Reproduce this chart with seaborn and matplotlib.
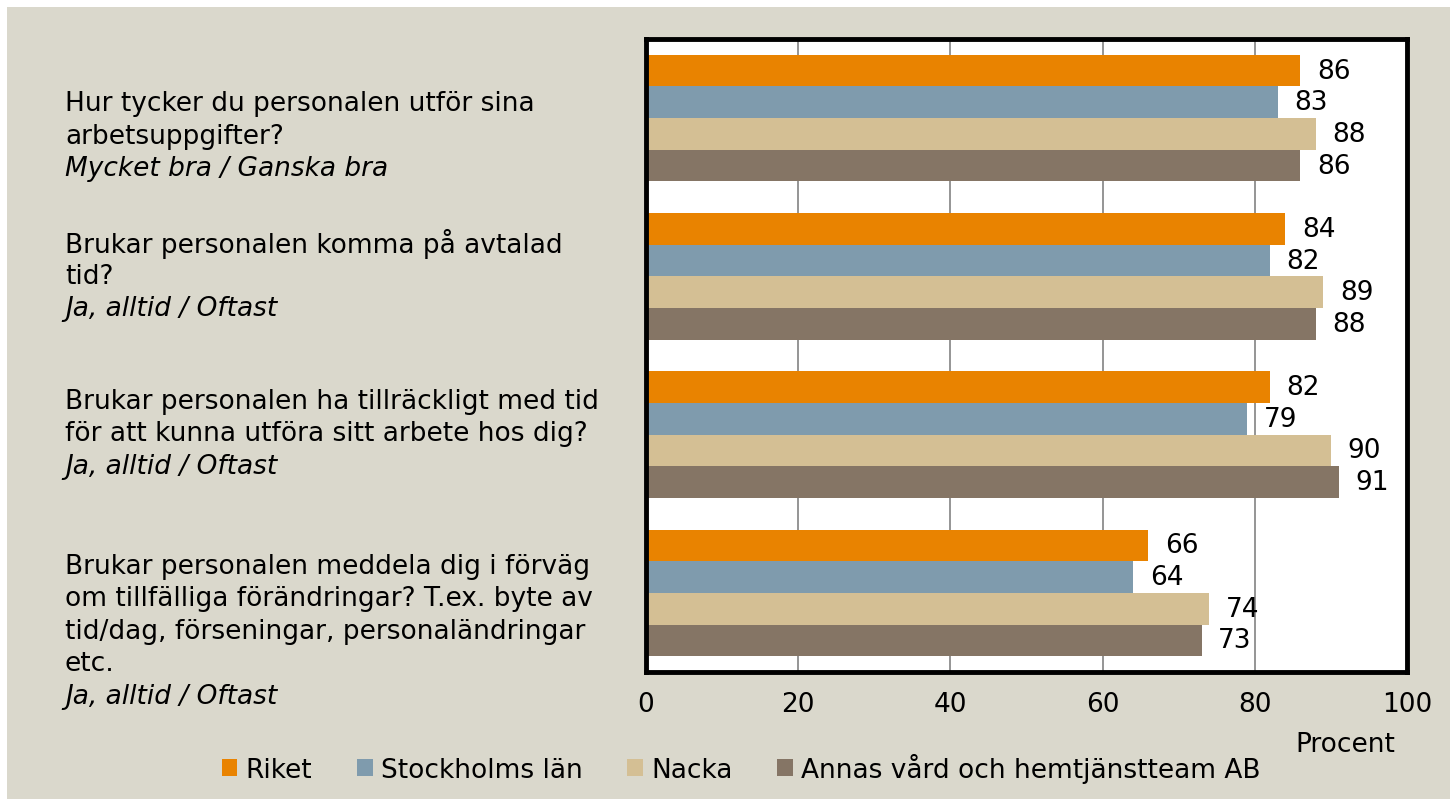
import matplotlib.pyplot as plt
import matplotlib.transforms as mtransforms
from matplotlib.patches import Rectangle
import pandas as pd
import seaborn as sns

# data
question_keys = ["q1", "q2", "q3", "q4"]
question_lines = [
    ["Hur tycker du personalen utför sina", "arbetsuppgifter?"],
    ["Brukar personalen komma på avtalad", "tid?"],
    ["Brukar personalen ha tillräckligt med tid", "för att kunna utföra sitt arbete hos dig?"],
    ["Brukar personalen meddela dig i förväg", "om tillfälliga förändringar? T.ex. byte av",
     "tid/dag, förseningar, personaländringar", "etc."],
]
answer_lines = ["Mycket bra / Ganska bra", "Ja, alltid / Oftast",
                "Ja, alltid / Oftast", "Ja, alltid / Oftast"]
series = ["Riket", "Stockholms län", "Nacka", "Annas vård och hemtjänstteam AB"]
riket = [86, 84, 82, 66]
stockholm = [83, 82, 79, 64]
nacka = [88, 89, 90, 74]
annas = [86, 88, 91, 73]
colors = ["#E98300", "#7F9BAD", "#D4BF94", "#857565"]
bg = "#DAD8CC"

rows = []
for name, vals in zip(series, [riket, stockholm, nacka, annas]):
    for q, v in zip(question_keys, vals):
        rows.append({"question": q, "series": name, "value": v})
df = pd.DataFrame(rows)

sns.set_theme(style="white")
plt.rcParams['font.family'] = ['DejaVu Sans']
plt.rcParams['text.color'] = 'black'

W, H = 1450, 803
fig = plt.figure(figsize=(W / 100, H / 100), dpi=100, facecolor="white")
fig.patches.append(Rectangle((7 / W, 3 / H), 1, (H - 11) / H, transform=fig.transFigure,
                             facecolor=bg, edgecolor="none", zorder=-10))

ax = fig.add_axes([646 / W, 1 - 673 / H, (1407 - 646) / W, (673 - 40) / H])
ax.set_facecolor("white")

sns.barplot(data=df, x="value", y="question", hue="series", hue_order=series,
            order=question_keys, palette=colors, orient="h", width=0.8,
            saturation=1, linewidth=0, ax=ax)
handles, labels = ax.get_legend_handles_labels()
ax.legend_.remove()

for cont in ax.containers:
    ax.bar_label(cont, padding=12, fontsize=19, color="black")

ax.set_xlim(0, 100)
ax.set_ylim(3.5, -0.5)
ax.set_xticks(range(0, 101, 20))
ax.set_yticks([])
ax.set_xlabel("")
ax.set_ylabel("")
ax.xaxis.grid(True, color="#8C8C8C", linewidth=1.3)
ax.set_axisbelow(True)
ax.tick_params(axis="x", length=0, pad=14, labelsize=19, labelcolor="black")
for s in ax.spines.values():
    s.set_visible(True)
    s.set_color("black")
    s.set_linewidth(3.5)

# question texts on the left
first_offset = [-15, -33, -34, -27]   # px from group centre to first line
line_step = 32.5
base = mtransforms.blended_transform_factory(fig.transFigure, ax.transData)
for i, (qlines, ans) in enumerate(zip(question_lines, answer_lines)):
    all_lines = qlines + [ans]
    for j, line in enumerate(all_lines):
        dy = -(first_offset[i] + j * line_step) / 100
        tr = base + mtransforms.ScaledTranslation(0, dy, fig.dpi_scale_trans)
        ax.text(65 / W, i, line, transform=tr, ha="left", va="center", fontsize=19,
                style="italic" if j == len(all_lines) - 1 else "normal",
                color="black", clip_on=False)

fig.text(1395 / W, 1 - 745 / H, "Procent", ha="right", va="center", fontsize=19,
         color="black")

fig.legend(handles, labels, loc="center", bbox_to_anchor=(741 / W, 1 - 769 / H),
           ncol=4, frameon=False, fontsize=19, handlelength=0.6, handleheight=0.6,
           handletextpad=0.3, columnspacing=1.7, labelcolor="black")

fig.savefig("out.png", dpi=100, facecolor=fig.get_facecolor())
